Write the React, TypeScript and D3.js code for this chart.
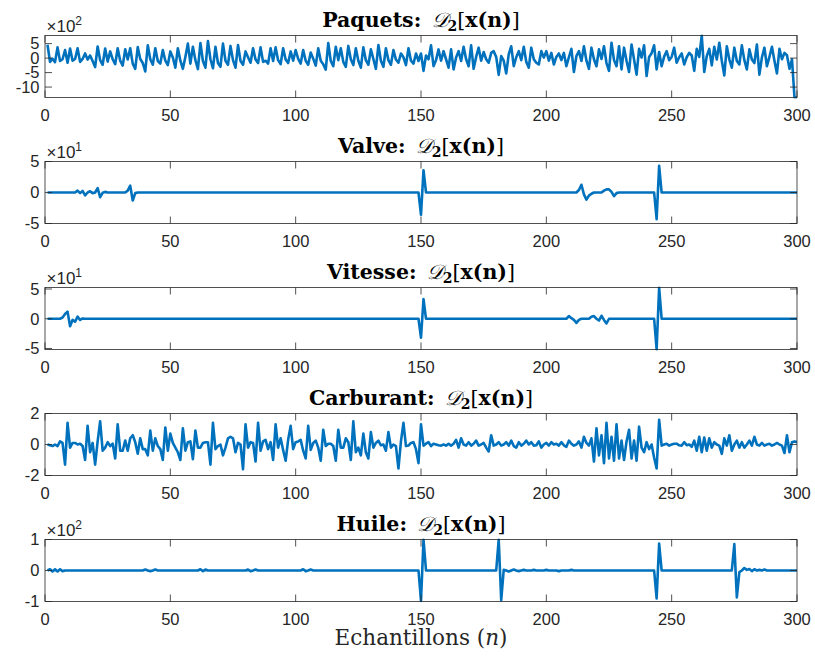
import React from "react";
import * as d3 from "d3";

const N = 300;
const xTicks = [0, 50, 100, 150, 200, 250, 300];

// Paquets (x 10^2), n = 1..300
const paquets = [
  4.6, -1.3, -0.2, -1.4, 3.7, -1.0, -0.4, 2.8, -1.6, 3.3,
  -0.9, -0.3, 3.4, -1.3, -0.3, 1.6, -0.5, 0.9, -1.0, -3.1,
  4.0, -0.7, -2.3, 3.3, -1.2, 2.3, -0.4, -2.1, 3.4, -0.9,
  -2.6, 3.0, -0.5, 3.4, -1.9, -3.7, 3.8, -0.3, -1.7, -4.6,
  4.4, -0.4, -2.3, 3.4, -1.0, -1.9, 2.8, -0.9, -2.4, 2.3,
  0.2, -3.3, 3.4, -0.9, -3.7, 0.4, 5.0, -1.9, 3.9, -0.7,
  -3.8, 5.2, -1.0, -3.3, 5.9, -0.4, -3.5, 3.9, -1.7, -3.0,
  5.0, -0.9, -2.3, 4.2, -0.7, -3.3, 4.5, -1.0, -2.3, 2.3,
  0.3, -1.6, 3.4, -0.5, -1.7, 3.7, -1.3, -0.9, -1.9, 3.4,
  -1.0, 3.7, -0.7, -2.1, 3.4, -0.5, -1.7, 2.3, -0.9, 2.8,
  -0.3, -1.9, 2.8, -0.9, -2.3, 1.9, -0.2, -2.6, 3.4, -0.9,
  -2.1, -4.0, 5.2, -1.0, -2.8, 3.9, -0.7, 3.4, -1.3, -3.0,
  4.2, -0.4, -2.4, 3.4, -0.9, -3.3, 3.7, -0.7, -2.3, 3.0,
  -0.3, -3.7, 4.5, -0.9, -3.0, 3.4, -0.7, -2.3, 2.8, -0.5,
  -1.6, 1.6, 0.3, -2.4, 3.4, -0.9, -1.9, 1.6, -1.0, 1.6,
  -4.4, 0.9, -0.4, 4.4, -2.8, -0.7, 3.0, -0.9, 2.4, -0.4,
  -3.3, 3.0, -3.9, 0.2, 2.4, -1.0, 3.9, -0.4, -2.8, 4.4,
  -3.7, 0.4, 3.6, -0.9, 2.1, -0.4, -1.6, 1.8, 2.4, 0.4,
  -5.8, 0.7, -0.9, -5.3, 1.3, 4.1, -2.8, 0.3, 2.4, -0.7,
  3.9, -1.3, -3.3, 3.6, -0.4, -1.6, -2.2, 2.4, 0.2, 2.4,
  -0.9, 1.8, -2.2, 0.4, 1.6, -0.7, 1.8, -2.8, 0.3, 3.2,
  -4.8, 0.7, 2.4, -1.0, 4.1, -0.9, -3.7, 3.6, -0.4, -2.8,
  3.0, -0.3, 4.1, -1.7, -4.4, 5.3, -0.7, -2.8, 4.1, -3.9,
  3.6, -0.9, -4.8, 4.7, -0.5, -5.7, 3.2, 0.2, 4.4, -6.2,
  0.4, 1.7, 4.4, -3.9, 2.1, -2.8, 0.5, 2.4, -0.7, 0.4,
  3.6, -1.6, 0.3, 1.6, -2.2, 0.3, 1.8, 0.9, -4.4, 3.2,
  0.4, 7.8, -4.8, 0.7, 3.2, -2.5, 3.9, -0.5, 5.3, -0.9,
  -6.0, 4.1, -0.4, -3.3, 3.6, -1.0, -2.2, 4.4, -0.7, -3.9,
  3.0, -0.5, -1.7, 4.7, -5.7, 0.2, 3.6, -2.8, 0.4, 3.9,
  -0.9, -5.3, 3.2, -0.4, 1.8, 1.0, -3.7, -0.4, -13.6, -13.6,
];

// Carburant, n = 1..300
const carburant = [
  0.0, -0.05, -0.1, 0.0, -0.1, 0.2, 0.1, -1.3, 1.4, -0.2,
  0.1, 0.1, 0.0, 0.05, -0.1, -1.0, 1.2, -0.5, 0.1, -1.3,
  0.2, 1.5, -0.4, -0.2, 0.15, -0.1, 0.05, -0.9, 1.3, -0.4,
  -0.4, 0.25, -0.4, 0.4, 0.6, 0.15, -0.6, 0.4, -0.3, -0.3,
  -0.7, 0.9, -0.4, 0.4, -0.1, -0.3, -1.0, 1.1, -0.4, 0.7,
  0.1, -0.2, -0.5, -1.0, 1.05, -0.4, 0.15, 0.2, -0.95, 0.9,
  -0.2, -0.2, 0.1, 0.15, 0.15, -1.3, 1.4, -0.3, -0.1, 0.0,
  -0.7, -0.2, 0.4, 0.5, 0.4, -0.5, 0.1, 0.0, -1.6, 1.3,
  -0.2, 0.15, 0.1, -1.1, 1.4, -0.4, 0.2, 0.3, -0.3, 0.15,
  -1.0, 1.3, -0.2, 0.4, -0.35, -1.05, 0.3, 1.2, -0.3, 0.15,
  0.2, 0.3, -0.4, -0.9, 1.2, -0.35, 0.1, 0.25, -0.2, -1.05,
  0.95, -0.1, 0.05, 0.05, -0.1, -1.05, 0.95, -0.2, -0.2, 0.4,
  0.15, -1.0, 1.5, -0.5, -0.2, -0.7, 0.7, -0.5, -0.9, 0.8,
  -0.2, 0.1, 0.25, -0.05, 0.0, -0.4, 0.8, -0.2, 0.0, -0.1,
  -1.55, 0.2, 1.4, -0.1, -0.07, 0.1, 0.15, -0.3, -1.2, 1.3,
  -0.07, 0.05, 0.15, -0.1, 0.05, 0.0, -0.05, -0.07, 0.0, -0.07,
  0.05, -0.07, 0.05, 0.3, -0.2, 0.4, 0.0, -0.07, 0.15, -0.07,
  0.05, 0.25, -0.07, 0.0, 0.1, -0.2, -0.45, 0.6, -0.07, 0.0,
  0.15, -0.07, 0.0, 0.15, -0.07, 0.25, -0.1, -0.2, 0.15, -0.07,
  0.05, 0.25, 0.0, 0.15, -0.07, -0.05, 0.2, -0.2, 0.0, 0.1,
  -0.07, 0.15, 0.0, 0.05, -0.07, 0.15, -0.05, -0.15, 0.25, 0.05,
  -0.07, 0.0, 0.2, -0.2, 0.5, 0.1, -0.07, 0.4, -1.1, 1.05,
  -0.7, 0.6, -1.2, 1.4, -0.9, 0.5, -1.05, 1.3, -0.9, 0.25,
  -1.0, 0.2, 0.95, -0.9, 0.25, -1.05, 1.15, -0.2, -0.5, 0.15,
  -0.3, 0.0, -0.85, -1.55, 1.6, -0.07, 0.0, 0.05, -0.07, 0.0,
  0.05, 0.05, -0.05, -0.07, 0.15, -0.05, 0.0, -0.15, 0.25, -0.4,
  0.5, -0.5, 0.45, -0.4, 0.4, -0.2, 0.15, 0.0, -0.07, -0.6,
  0.4, -0.07, 0.6, -0.4, 0.0, 0.25, -0.2, 0.15, -0.2, 0.0,
  0.25, -0.07, 0.5, 0.0, -0.07, 0.1, -0.07, 0.0, 0.05, -0.07,
  0.0, 0.1, 0.0, -0.07, -0.55, 0.6, -0.5, 0.15, 0.2, 0.15,
];

// Sparse series: [n, value]; all other samples are 0
const valveEvents: [number, number][] = [
  [13, 0.3], [14, -0.1], [15, 0.25], [16, -0.45], [18, 0.2], [19, -0.1],
  [21, 0.7], [22, -0.75], [23, -0.05], [24, 0.1],
  [33, 0.3], [34, 1.1], [35, -1.3], [36, -0.1],
  [150, -3.6], [151, 3.6],
  [213, 0.4], [214, 1.25], [215, -0.3], [216, -1.15], [217, -0.5], [218, -0.2],
  [223, 0.3], [224, 0.5], [225, 0.5], [226, 0.1], [227, -0.6], [228, -0.1],
  [244, -4.3], [245, 4.3],
];

const vitesseEvents: [number, number][] = [
  [7, 0.2], [8, 0.8], [9, 1.2], [10, -1.25], [11, -0.2], [12, -0.5], [13, 0.35], [14, -0.2], [15, 0.05],
  [150, -3.2], [151, 3.3],
  [209, 0.45], [210, 0.1], [211, -0.2], [212, -0.7], [213, -0.2],
  [218, 0.35], [219, 0.45], [221, -0.3], [222, 0.5], [223, -0.2], [224, -0.8],
  [244, -5.17], [245, 5.25],
];

const huileEvents: [number, number][] = [
  [2, 0.04], [3, -0.03], [4, 0.04], [5, -0.03], [6, 0.04], [7, -0.02],
  [40, 0.03], [42, -0.02], [44, 0.03],
  [62, 0.04], [63, -0.02], [64, 0.03],
  [81, 0.03], [82, -0.02], [84, 0.03],
  [103, 0.04], [104, -0.02], [106, 0.03],
  [150, -0.98], [151, 1.0],
  [181, 1.0], [182, -0.96], [183, 0.02], [185, -0.03], [187, 0.03], [189, -0.02],
  [191, 0.02], [195, 0.02], [200, 0.02], [205, -0.02], [210, 0.02],
  [244, -0.9], [245, 0.87],
  [275, 0.85], [276, -0.87], [277, -0.05], [279, 0.08], [280, 0.02], [281, 0.05],
  [282, -0.02], [283, 0.04], [285, 0.02], [287, 0.03],
];

function fromEvents(ev: [number, number][]): number[] {
  const arr = new Array(N).fill(0);
  ev.forEach(([n, v]) => { arr[n - 1] = v; });
  return arr;
}

const titles = ["Paquets", "Valve", "Vitesse", "Carburant", "Huile"];
const exponents = [2, 1, 1, null, 2];
const yTickSets = [[-10, -5, 0, 5], [-5, 0, 5], [-5, 0, 5], [-2, 0, 2], [-1, 0, 1]];

const W = 815, H = 659;
const LEFT = 45, RIGHT = 797;
const TOPS = [35.5, 161.5, 287.5, 413.5, 539.5];
const PH = 62;
const BLUE = "#0072BD";
const AX = "#262626";
const TICKF = "'Liberation Sans', Arial, Helvetica, sans-serif";
const SERIF = "'DejaVu Serif', serif";

export default function App() {
  const series = [
    paquets,
    fromEvents(valveEvents),
    fromEvents(vitesseEvents),
    carburant,
    fromEvents(huileEvents),
  ];
  const domains: [number, number][] = [
    d3.extent(paquets) as [number, number],
    [-5, 5],
    d3.extent(series[2]) as [number, number],
    [-2, 2],
    [-1, 1],
  ];
  const x = d3.scaleLinear().domain([0, N]).range([LEFT, RIGHT]);
  const TL = 7;

  return (
    <svg width={W} height={H} style={{ position: "absolute", left: 0, top: 0, background: "#fff" }}>
      <rect x={0} y={0} width={W} height={H} fill="#fff" />
      {series.map((data, k) => {
        const top = TOPS[k];
        const bottom = top + PH;
        const y = d3.scaleLinear().domain(domains[k]).range([bottom, top]);
        const line = d3.line<number>().x((_, i) => x(i + 1)).y((d) => y(d));
        const cid = `clip${k}`;
        const exp = exponents[k];
        return (
          <g key={k}>
            <defs>
              <clipPath id={cid}>
                <rect x={LEFT} y={top - 1} width={RIGHT - LEFT} height={PH + 2} />
              </clipPath>
            </defs>
            <rect x={LEFT} y={top} width={RIGHT - LEFT} height={PH} fill="#fff" />
            <path d={line(data) || ""} fill="none" stroke={BLUE} strokeWidth={2.6}
              strokeLinejoin="round" clipPath={`url(#${cid})`} />
            <rect x={LEFT} y={top} width={RIGHT - LEFT} height={PH} fill="none" stroke={AX} strokeWidth={0.8} />
            {xTicks.map((t) => (
              <g key={"x" + t}>
                <line x1={x(t)} x2={x(t)} y1={bottom} y2={bottom - TL} stroke={AX} strokeWidth={0.8} />
                <line x1={x(t)} x2={x(t)} y1={top} y2={top + TL} stroke={AX} strokeWidth={0.8} />
                <text x={x(t)} y={bottom + 23.5} textAnchor="middle" fontFamily={TICKF} fontSize={16.5} fill={AX}>{t}</text>
              </g>
            ))}
            {yTickSets[k].map((t) => (
              <g key={"y" + t}>
                <line x1={LEFT} x2={LEFT + TL} y1={y(t)} y2={y(t)} stroke={AX} strokeWidth={0.8} />
                <line x1={RIGHT} x2={RIGHT - TL} y1={y(t)} y2={y(t)} stroke={AX} strokeWidth={0.8} />
                <text x={LEFT - 5.5} y={y(t)} dy="0.35em" textAnchor="end" fontFamily={TICKF} fontSize={16.5} fill={AX}>{t}</text>
              </g>
            ))}
            {exp !== null && (
              <text x={LEFT + 1.5} y={top - 3.5} fontFamily={TICKF} fontSize={17} fill={AX}>
                ×10<tspan dy={-7} fontSize={12}>{exp}</tspan>
              </text>
            )}
            <text x={(LEFT + RIGHT) / 2} y={top - 9} textAnchor="middle" fontFamily={SERIF} fontSize={20.5} fill="#000">
              <tspan fontWeight="bold">{titles[k]}:</tspan>
              <tspan>{"\u2002"}</tspan>
              <tspan fontStyle="italic">𝒟</tspan>
              <tspan fontWeight="bold" fontSize={14} dy={4}>2</tspan>
              <tspan dy={-4}>[</tspan>
              <tspan fontWeight="bold">x(n)</tspan>
              <tspan>]</tspan>
            </text>
          </g>
        );
      })}
      <text x={(LEFT + RIGHT) / 2} y={645} textAnchor="middle" fontFamily={SERIF} fontSize={21.5} fill="#262626">
        Echantillons (<tspan fontStyle="italic">n</tspan>)
      </text>
    </svg>
  );
}
